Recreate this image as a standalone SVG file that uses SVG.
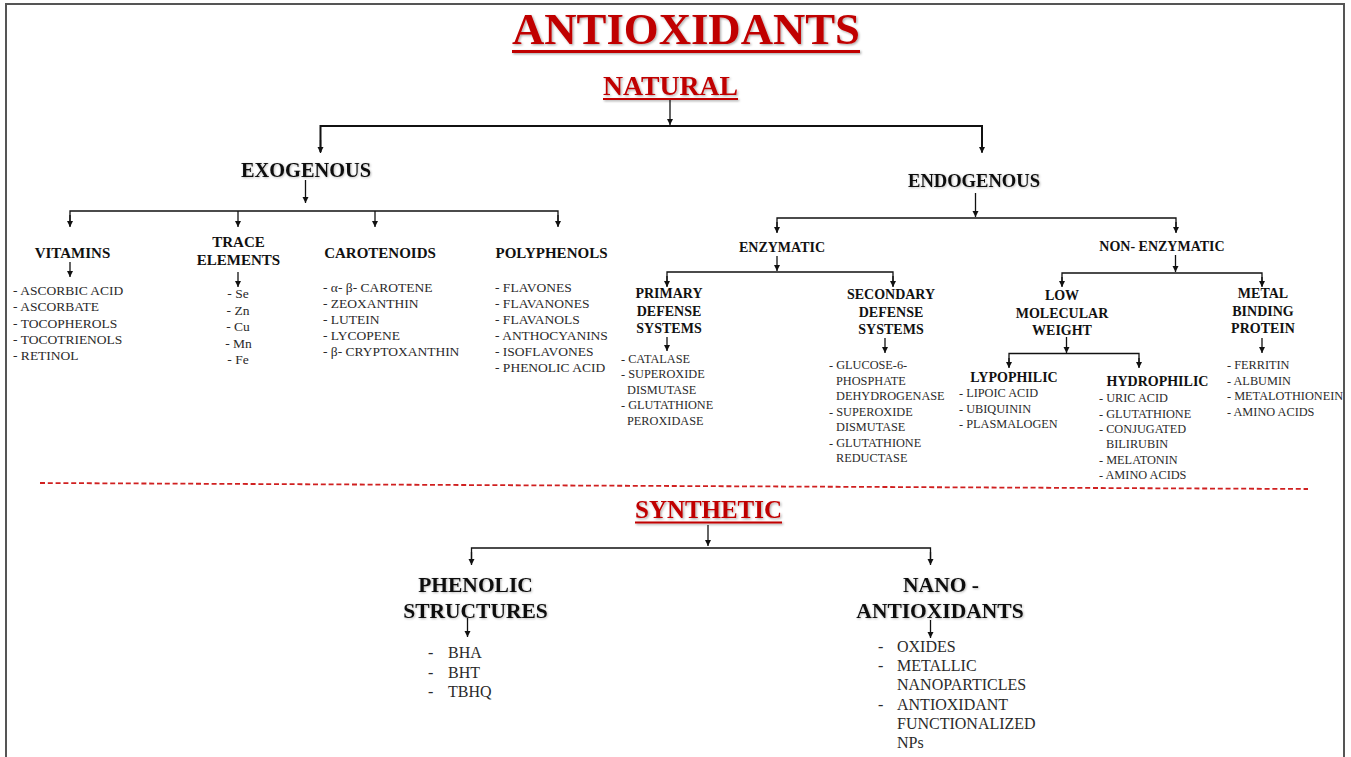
<svg xmlns="http://www.w3.org/2000/svg" width="1351" height="757" viewBox="0 0 1351 757">
<defs>
<style>
text{font-family:"Liberation Serif","Times New Roman",serif;}
.t{font-weight:bold;fill:#c00000;text-anchor:middle;}
.h{font-weight:bold;fill:#111;text-anchor:middle;}
.it{fill:#2a2a2a;font-size:13.5px;}
.ie{fill:#2a2a2a;font-size:12.3px;}
.ib{fill:#2a2a2a;font-size:16px;}
.c{fill:#2a2a2a;text-anchor:middle;font-size:13.5px;}
.ln{stroke:#111;stroke-width:1.3;fill:none;}
.lt{stroke:#111;stroke-width:2;fill:none;}
.ar{stroke:#111;stroke-width:1.3;fill:none;marker-end:url(#ah);}
.ul{stroke:#c00000;}
</style>
<marker id="ah" markerUnits="userSpaceOnUse" markerWidth="7" markerHeight="7" refX="6" refY="3.5" orient="auto">
<path d="M0,0.5 L6,3.5 L0,6.5 z" fill="#111"/>
</marker>
<filter id="sh" x="-10%" y="-30%" width="120%" height="160%">
<feDropShadow dx="1.2" dy="1.2" stdDeviation="1" flood-color="#000" flood-opacity="0.35"/>
</filter>
<filter id="sh2" x="-10%" y="-30%" width="120%" height="160%">
<feDropShadow dx="0.8" dy="0.8" stdDeviation="0.8" flood-color="#000" flood-opacity="0.3"/>
</filter>
</defs>
<rect x="0" y="0" width="1351" height="757" fill="#fff"/>
<rect x="6" y="4" width="1338" height="770" fill="none" stroke="#555" stroke-width="2"/>

<g id="title" filter="url(#sh)">
<text class="t" x="686" y="43.5" font-size="45" textLength="348" lengthAdjust="spacingAndGlyphs">ANTIOXIDANTS</text>
<line class="ul" x1="512" y1="51.5" x2="860" y2="51.5" stroke-width="3"/>
</g>
<g id="natural" filter="url(#sh)">
<text class="t" x="670.5" y="95" font-size="27.5" textLength="135" lengthAdjust="spacingAndGlyphs">NATURAL</text>
<line class="ul" x1="603" y1="99" x2="738" y2="99" stroke-width="2"/>
</g>
<g id="synthetic" filter="url(#sh)">
<text class="t" x="708.5" y="518" font-size="25" textLength="147" lengthAdjust="spacingAndGlyphs">SYNTHETIC</text>
<line class="ul" x1="635" y1="522.5" x2="782" y2="522.5" stroke-width="2"/>
</g>

<g id="connectors">
<line class="ar" x1="670" y1="100" x2="670" y2="125"/>
<polyline class="lt" points="320.5,152 320.5,126 982,126 982,152"/>
<line class="ar" x1="320.5" y1="140" x2="320.5" y2="153"/>
<line class="ar" x1="982" y1="140" x2="982" y2="153"/>
<line class="ar" x1="305.5" y1="180" x2="305.5" y2="203"/>
<polyline class="ln" points="70,226 70,211 558,211 558,226"/>
<line class="ar" x1="70" y1="215" x2="70" y2="227"/>
<line class="ar" x1="238" y1="211" x2="238" y2="227"/>
<line class="ar" x1="375" y1="211" x2="375" y2="227"/>
<line class="ar" x1="558" y1="215" x2="558" y2="227"/>
<line class="ar" x1="70" y1="262" x2="70" y2="277"/>
<line class="ar" x1="238" y1="272" x2="238" y2="287"/>
<line class="ar" x1="975.5" y1="193" x2="975.5" y2="217"/>
<polyline class="ln" points="777,232 777,218 1176,218 1176,232"/>
<line class="ar" x1="777" y1="222" x2="777" y2="233"/>
<line class="ar" x1="1176" y1="222" x2="1176" y2="233"/>
<line class="ar" x1="777" y1="256" x2="777" y2="271"/>
<polyline class="ln" points="667,286 667,272 893,272 893,286"/>
<line class="ar" x1="667" y1="276" x2="667" y2="287"/>
<line class="ar" x1="893" y1="276" x2="893" y2="287"/>
<line class="ar" x1="667" y1="337" x2="667" y2="351"/>
<line class="ar" x1="885" y1="338" x2="885" y2="353"/>
<line class="ar" x1="1175.5" y1="255" x2="1175.5" y2="272"/>
<polyline class="ln" points="1062,286 1062,273 1262,273 1262,286"/>
<line class="ar" x1="1062" y1="277" x2="1062" y2="287"/>
<line class="ar" x1="1262" y1="277" x2="1262" y2="287"/>
<line class="ar" x1="1066.5" y1="337" x2="1066.5" y2="353"/>
<polyline class="ln" points="1009,367 1009,353.5 1139,353.5 1139,367"/>
<line class="ar" x1="1009" y1="358" x2="1009" y2="368"/>
<line class="ar" x1="1139" y1="358" x2="1139" y2="368"/>
<line class="ar" x1="1262" y1="338" x2="1262" y2="353"/>
<line x1="40" y1="483" x2="1308" y2="489" stroke="#d02020" stroke-width="1.8" stroke-dasharray="5,2.8"/>
<line class="ar" x1="708" y1="525" x2="708" y2="546"/>
<polyline class="ln" points="471.5,563 471.5,548 930.5,548 930.5,563"/>
<line class="ar" x1="471.5" y1="552" x2="471.5" y2="565"/>
<line class="ar" x1="930.5" y1="552" x2="930.5" y2="565"/>
<line class="ar" x1="467.5" y1="618" x2="467.5" y2="637"/>
<line class="ar" x1="930.5" y1="620" x2="930.5" y2="638"/>
</g>

<g id="exogenous" filter="url(#sh2)">
<text class="h" x="306" y="177" font-size="20" textLength="130" lengthAdjust="spacingAndGlyphs">EXOGENOUS</text>
</g>
<g id="endogenous" filter="url(#sh2)">
<text class="h" x="974" y="187" font-size="19" textLength="132" lengthAdjust="spacingAndGlyphs">ENDOGENOUS</text>
</g>

<g id="vitamins">
<text class="h" x="72.5" y="258" font-size="15">VITAMINS</text>
<text class="it" x="13" y="295">- ASCORBIC ACID</text>
<text class="it" x="13" y="311.3">- ASCORBATE</text>
<text class="it" x="13" y="327.5">- TOCOPHEROLS</text>
<text class="it" x="13" y="343.8">- TOCOTRIENOLS</text>
<text class="it" x="13" y="360">- RETINOL</text>
</g>
<g id="trace-elements">
<text class="h" x="238.5" y="247" font-size="15">TRACE</text>
<text class="h" x="238.5" y="265" font-size="15">ELEMENTS</text>
<text class="c" x="238" y="298">- Se</text>
<text class="c" x="238" y="314.5">- Zn</text>
<text class="c" x="238" y="331">- Cu</text>
<text class="c" x="238.5" y="347.5">- Mn</text>
<text class="c" x="238" y="364">- Fe</text>
</g>
<g id="carotenoids">
<text class="h" x="380" y="258" font-size="15">CAROTENOIDS</text>
<text class="it" x="323" y="292">- α- β- CAROTENE</text>
<text class="it" x="323" y="308">- ZEOXANTHIN</text>
<text class="it" x="323" y="324">- LUTEIN</text>
<text class="it" x="323" y="340">- LYCOPENE</text>
<text class="it" x="323" y="356">- β- CRYPTOXANTHIN</text>
</g>
<g id="polyphenols">
<text class="h" x="551.5" y="258" font-size="15">POLYPHENOLS</text>
<text class="it" x="495" y="292">- FLAVONES</text>
<text class="it" x="495" y="308">- FLAVANONES</text>
<text class="it" x="495" y="324">- FLAVANOLS</text>
<text class="it" x="495" y="340">- ANTHOCYANINS</text>
<text class="it" x="495" y="356">- ISOFLAVONES</text>
<text class="it" x="495" y="372">- PHENOLIC ACID</text>
</g>

<g id="enzymatic">
<text class="h" x="782" y="252" font-size="14">ENZYMATIC</text>
</g>
<g id="non-enzymatic">
<text class="h" x="1162" y="251" font-size="14">NON- ENZYMATIC</text>
</g>
<g id="primary-defense">
<text class="h" x="669" y="298" font-size="14">PRIMARY</text>
<text class="h" x="669" y="316" font-size="14">DEFENSE</text>
<text class="h" x="669" y="333" font-size="14">SYSTEMS</text>
<text class="ie" x="621" y="363">- CATALASE</text>
<text class="ie" x="621" y="378">- SUPEROXIDE</text>
<text class="ie" x="627" y="393.5">DISMUTASE</text>
<text class="ie" x="621" y="409">- GLUTATHIONE</text>
<text class="ie" x="627" y="424.5">PEROXIDASE</text>
</g>
<g id="secondary-defense">
<text class="h" x="891" y="299" font-size="14">SECONDARY</text>
<text class="h" x="891" y="317" font-size="14">DEFENSE</text>
<text class="h" x="891" y="334" font-size="14">SYSTEMS</text>
<text class="ie" x="829" y="369">- GLUCOSE-6-</text>
<text class="ie" x="836" y="384.5">PHOSPHATE</text>
<text class="ie" x="836" y="400">DEHYDROGENASE</text>
<text class="ie" x="829" y="415.5">- SUPEROXIDE</text>
<text class="ie" x="836" y="431">DISMUTASE</text>
<text class="ie" x="829" y="446.5">- GLUTATHIONE</text>
<text class="ie" x="836" y="462">REDUCTASE</text>
</g>
<g id="low-molecular-weight">
<text class="h" x="1062" y="300" font-size="14">LOW</text>
<text class="h" x="1062" y="318" font-size="14">MOLECULAR</text>
<text class="h" x="1062" y="335" font-size="14">WEIGHT</text>
</g>
<g id="metal-binding-protein">
<text class="h" x="1263" y="298" font-size="14">METAL</text>
<text class="h" x="1263" y="316" font-size="14">BINDING</text>
<text class="h" x="1263" y="333" font-size="14">PROTEIN</text>
<text class="ie" x="1227" y="369">- FERRITIN</text>
<text class="ie" x="1227" y="384.5">- ALBUMIN</text>
<text class="ie" x="1227" y="400">- METALOTHIONEIN</text>
<text class="ie" x="1227" y="415.5">- AMINO ACIDS</text>
</g>
<g id="lypophilic">
<text class="h" x="1014" y="382" font-size="14">LYPOPHILIC</text>
<text class="ie" x="959" y="397">- LIPOIC ACID</text>
<text class="ie" x="959" y="412.5">- UBIQUININ</text>
<text class="ie" x="959" y="428">- PLASMALOGEN</text>
</g>
<g id="hydrophilic">
<text class="h" x="1157.5" y="386" font-size="14">HYDROPHILIC</text>
<text class="ie" x="1099" y="402">- URIC ACID</text>
<text class="ie" x="1099" y="417.5">- GLUTATHIONE</text>
<text class="ie" x="1099" y="433">- CONJUGATED</text>
<text class="ie" x="1106" y="448">BILIRUBIN</text>
<text class="ie" x="1099" y="463.5">- MELATONIN</text>
<text class="ie" x="1099" y="479">- AMINO ACIDS</text>
</g>

<g id="phenolic-structures">
<g filter="url(#sh2)">
<text class="h" x="475.5" y="592" font-size="21.5">PHENOLIC</text>
<text class="h" x="475.5" y="618" font-size="21.5">STRUCTURES</text>
</g>
<text class="ib" x="428" y="658">-</text><text class="ib" x="448" y="658">BHA</text>
<text class="ib" x="428" y="677.5">-</text><text class="ib" x="448" y="677.5">BHT</text>
<text class="ib" x="428" y="697">-</text><text class="ib" x="448" y="697">TBHQ</text>
</g>
<g id="nano-antioxidants">
<g filter="url(#sh2)">
<text class="h" x="941" y="592" font-size="21.5">NANO -</text>
<text class="h" x="940" y="618" font-size="21.5">ANTIOXIDANTS</text>
</g>
<text class="ib" x="878" y="652">-</text><text class="ib" x="897" y="652">OXIDES</text>
<text class="ib" x="878" y="671">-</text><text class="ib" x="897" y="671">METALLIC</text>
<text class="ib" x="897" y="690">NANOPARTICLES</text>
<text class="ib" x="878" y="709.5">-</text><text class="ib" x="897" y="709.5">ANTIOXIDANT</text>
<text class="ib" x="897" y="729">FUNCTIONALIZED</text>
<text class="ib" x="897" y="748">NPs</text>
</g>
</svg>
